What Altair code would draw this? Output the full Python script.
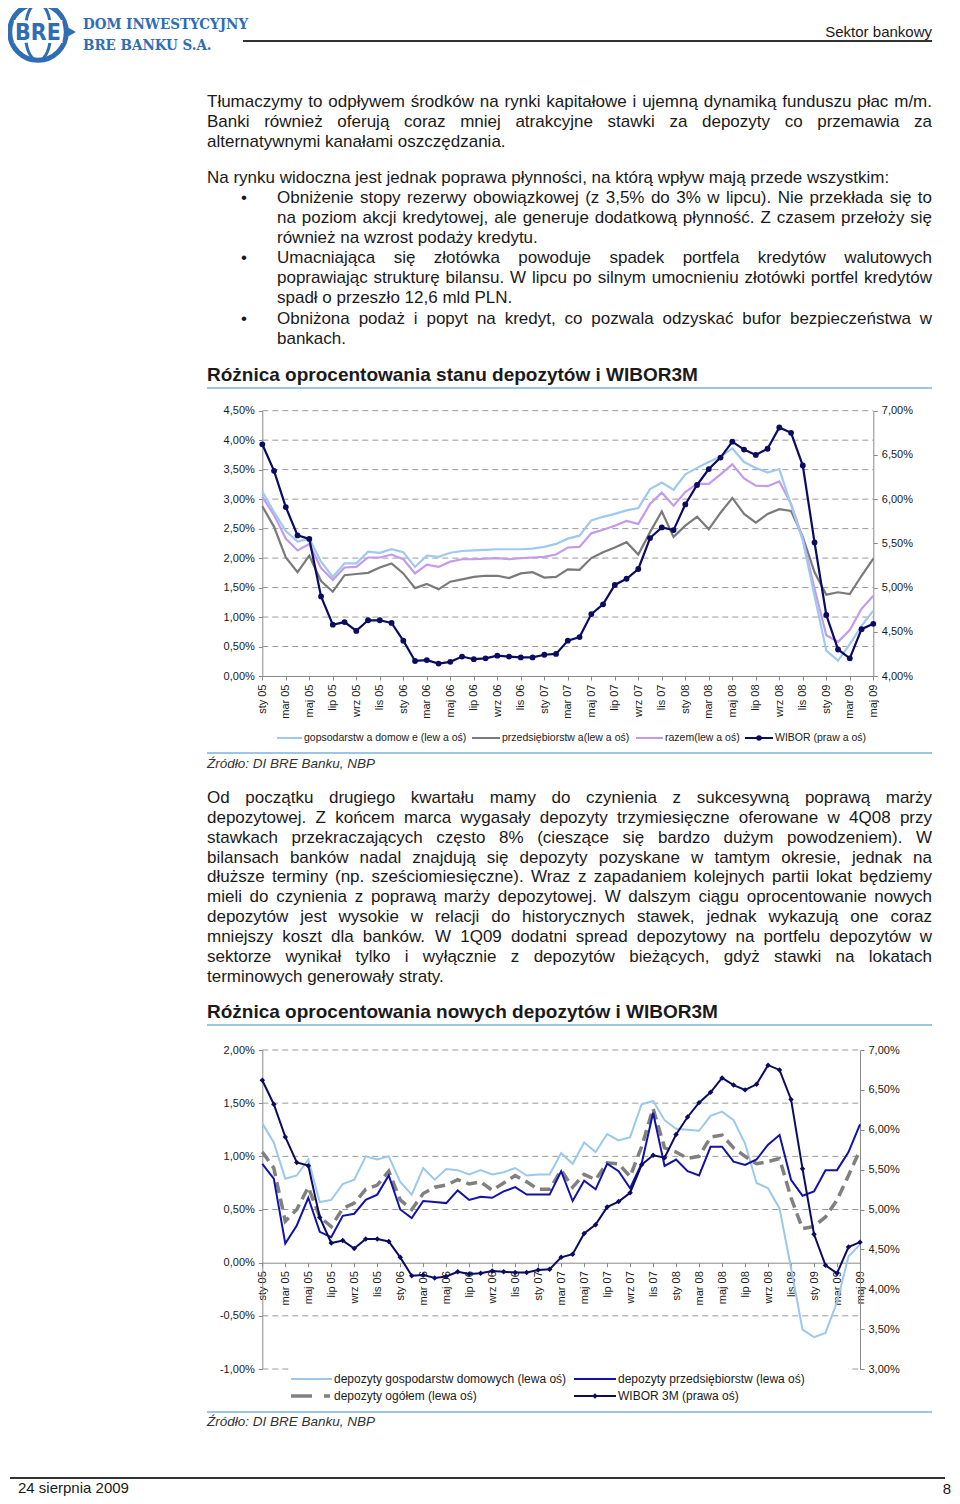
import json
import altair as alt
import pandas as pd

# ---------------- data ----------------
MONTH_ABBR = ["sty", "lut", "mar", "kwi", "maj", "cze", "lip", "sie", "wrz", "paź", "lis", "gru"]
months = [f"{MONTH_ABBR[k % 12]} {5 + k // 12:02d}" for k in range(53)]
idx = list(range(len(months)))
x_ticks = idx[::2]

wibor = [6.62, 6.32, 5.91, 5.59, 5.55, 4.90, 4.58, 4.61, 4.51, 4.63,
         4.63, 4.60, 4.40, 4.17, 4.18, 4.14, 4.16, 4.22, 4.19, 4.20,
         4.23, 4.22, 4.21, 4.21, 4.24, 4.25, 4.40, 4.44, 4.70, 4.81,
         5.03, 5.10, 5.21, 5.56, 5.68, 5.65, 5.94, 6.16, 6.34, 6.47,
         6.65, 6.56, 6.50, 6.57, 6.81, 6.75, 6.38, 5.51, 4.69, 4.30,
         4.20, 4.53, 4.59]

c1_households = [3.13, 2.78, 2.46, 2.28, 2.33, 1.94, 1.68, 1.91, 1.91, 2.11,
                 2.09, 2.15, 2.10, 1.85, 2.04, 2.02, 2.09, 2.12, 2.13, 2.14,
                 2.15, 2.15, 2.15, 2.16, 2.19, 2.24, 2.33, 2.38, 2.64, 2.70,
                 2.75, 2.81, 2.85, 3.17, 3.28, 3.16, 3.42, 3.53, 3.63, 3.72,
                 3.86, 3.63, 3.53, 3.45, 3.51, 2.90, 2.30, 1.36, 0.43, 0.26,
                 0.54, 0.85, 1.11]
c1_enterprises = [2.88, 2.53, 2.01, 1.76, 2.04, 1.61, 1.43, 1.71, 1.73, 1.75,
                  1.84, 1.91, 1.74, 1.49, 1.56, 1.47, 1.60, 1.64, 1.68, 1.70,
                  1.70, 1.66, 1.74, 1.76, 1.67, 1.68, 1.81, 1.80, 2.00, 2.10,
                  2.18, 2.27, 2.06, 2.44, 2.79, 2.36, 2.55, 2.70, 2.49, 2.77,
                  3.02, 2.75, 2.60, 2.75, 2.83, 2.80, 2.36, 1.76, 1.38, 1.42,
                  1.39, 1.70, 1.99]
c1_total = [3.04, 2.73, 2.33, 2.13, 2.24, 1.83, 1.63, 1.84, 1.85, 2.01,
            2.01, 2.06, 1.98, 1.74, 1.89, 1.85, 1.94, 1.98, 1.98, 1.99,
            2.00, 1.98, 2.00, 2.01, 2.02, 2.06, 2.18, 2.19, 2.42, 2.48,
            2.55, 2.63, 2.58, 2.92, 3.11, 2.89, 3.12, 3.26, 3.26, 3.42,
            3.59, 3.35, 3.23, 3.22, 3.30, 2.92, 2.33, 1.48, 0.69, 0.58,
            0.78, 1.14, 1.36]

c2_households = [1.31, 1.13, 0.79, 0.82, 0.97, 0.57, 0.59, 0.74, 0.78, 1.00,
                 0.97, 1.00, 0.76, 0.64, 0.89, 0.78, 0.88, 0.87, 0.83, 0.87,
                 0.83, 0.85, 0.89, 0.82, 0.83, 0.83, 1.03, 0.93, 1.13, 1.04,
                 1.21, 1.15, 1.18, 1.49, 1.52, 1.34, 1.26, 1.25, 1.24, 1.38,
                 1.42, 1.34, 1.12, 0.75, 0.70, 0.51, -0.05, -0.63, -0.70, -0.66,
                 -0.37, 0.06, 0.17]
c2_enterprises = [0.93, 0.79, 0.18, 0.35, 0.61, 0.29, 0.24, 0.44, 0.46, 0.59,
                  0.64, 0.82, 0.50, 0.42, 0.58, 0.57, 0.56, 0.68, 0.59, 0.62,
                  0.61, 0.67, 0.71, 0.64, 0.64, 0.64, 0.86, 0.58, 0.77, 0.69,
                  0.93, 0.86, 0.70, 0.93, 1.41, 0.91, 0.97, 0.86, 0.82, 1.09,
                  1.09, 0.95, 0.92, 0.97, 1.11, 1.20, 0.78, 0.63, 0.67, 0.87,
                  0.87, 1.04, 1.30]
c2_total = [1.04, 0.89, 0.39, 0.50, 0.71, 0.43, 0.34, 0.51, 0.56, 0.69,
            0.73, 0.86, 0.59, 0.50, 0.65, 0.71, 0.73, 0.78, 0.74, 0.76,
            0.68, 0.75, 0.82, 0.76, 0.69, 0.69, 0.87, 0.71, 0.83, 0.78,
            0.94, 0.93, 0.81, 1.09, 1.45, 1.08, 1.04, 0.98, 1.00, 1.18,
            1.20, 1.08, 1.00, 0.93, 0.95, 0.98, 0.61, 0.32, 0.34, 0.43,
            0.59, 0.82, 1.06]

c1_left_ticks = [0, 0.5, 1, 1.5, 2, 2.5, 3, 3.5, 4, 4.5]
c1_right_ticks = [4, 4.5, 5, 5.5, 6, 6.5, 7]
c1_grid_levels = [0.5, 1, 1.5, 2, 2.5, 3, 3.5, 4, 4.5]
c2_left_ticks = [-1, -0.5, 0, 0.5, 1, 1.5, 2]
c2_right_ticks = [3, 3.5, 4, 4.5, 5, 5.5, 6, 6.5, 7]
c2_grid_levels = [-1, -0.5, 0.5, 1, 1.5, 2]

c1_names = ["gospodarstwa domowe", "przedsiębiorstwa", "razem"]

# ---------------- styles / layout ----------------
W, H = 944, 1488
FONT = "Liberation Sans"
BLUE = "#2f6db5"
TXT = "#1a1a1a"
RULE_BLUE = "#9cc6e8"
C1_LB, C1_GR, C1_PU, NAVY = "#9fc9ee", "#7a7a7a", "#c49aec", "#0b0b62"
C2_LB, C2_DB, C2_GR = "#9cc8ec", "#1212a6", "#808080"
PCT = "replace(replace(format(datum.value, '.2f'), '.', ','), '\u2212', '-') + '%'"
XLAB = json.dumps(months, ensure_ascii=False) + "[datum.value]"
BODY_SIZE = 17
RIGHT_EDGE = 932


def px(v):
    return v - 8


one = pd.DataFrame({"a": [0]})

# Arial / Liberation Sans advance widths (1/1000 em) for justification
AW = {" ": 278, "a": 556, "b": 556, "c": 500, "d": 556, "e": 556, "f": 278, "g": 556,
      "h": 556, "i": 222, "j": 222, "k": 500, "l": 222, "m": 833, "n": 556, "o": 556,
      "p": 556, "q": 556, "r": 333, "s": 500, "t": 278, "u": 556, "v": 500, "w": 722,
      "x": 500, "y": 500, "z": 500, "ą": 556, "ę": 556, "ó": 556, "ś": 500, "ć": 500,
      "ż": 500, "ź": 500, "ł": 222, "ń": 556, "A": 667, "B": 667, "C": 722, "D": 722,
      "E": 667, "F": 611, "G": 778, "H": 722, "I": 278, "J": 500, "K": 667, "L": 556,
      "M": 833, "N": 722, "O": 778, "P": 667, "Q": 778, "R": 722, "S": 667, "T": 611,
      "U": 722, "V": 667, "W": 944, "X": 667, "Y": 667, "Z": 611, "Ż": 611,
      ".": 278, ",": 278, ":": 278, "(": 333, ")": 333, "%": 889, "/": 278, "-": 333}


def tw(s, size):
    return sum(AW.get(ch, 556) for ch in s) * size / 1000.0


def text_layer(s, x, y, size=16, weight="normal", style="normal", color=TXT,
               align="left", font=FONT):
    return alt.Chart(pd.DataFrame({"t": [s]})).mark_text(
        align=align, baseline="middle", fontSize=size, fontWeight=weight,
        fontStyle=style, color=color, font=font
    ).encode(x=alt.value(px(x)), y=alt.value(px(y)), text="t:N")


def rule_layer(x1, x2, y, color, width=1.0, dash=None):
    kw = dict(color=color, strokeWidth=width)
    if dash:
        kw["strokeDash"] = dash
    return alt.Chart(one).mark_rule(**kw).encode(
        x=alt.value(px(x1)), x2=alt.value(px(x2)), y=alt.value(px(y)))


def point_layer(x, y, shape, size, color, filled=True, sw=1.0):
    return alt.Chart(one).mark_point(
        shape=shape, size=size, filled=filled, color=color, opacity=1, strokeWidth=sw
    ).encode(x=alt.value(px(x)), y=alt.value(px(y)))


layers = []

# ---------------- header ----------------
layers += [
    point_layer(38, 32, "circle", 3200, BLUE, filled=False, sw=5),
    point_layer(38, 32, "M0,-1C0.6,-1 0.6,1 0,1C-0.6,1 -0.6,-1 0,-1Z", 3200, BLUE, filled=False, sw=3),
    point_layer(4, 32, "triangle-left", 80, BLUE),
    point_layer(72, 32, "triangle-right", 80, BLUE),
    alt.Chart(pd.DataFrame({"t": ["BRE"]})).mark_text(
        align="center", baseline="middle", fontSize=23, fontWeight="bold",
        font="DejaVu Sans Condensed", color="white", stroke="white", strokeWidth=6
    ).encode(x=alt.value(px(38)), y=alt.value(px(33)), text="t:N"),
    text_layer("BRE", 38, 33, size=23, weight="bold", color=BLUE, align="center",
               font="DejaVu Sans Condensed"),
    text_layer("DOM INWESTYCYJNY", 83, 24, size=15, weight="bold", color=BLUE, font="DejaVu Serif Condensed"),
    text_layer("BRE BANKU S.A.", 83, 45, size=15, weight="bold", color=BLUE, font="DejaVu Serif Condensed"),
    rule_layer(243, 932, 41, "#333333", 2),
    text_layer("Sektor bankowy", 932, 32, size=15, align="right"),
]

# ---------------- body text (justified like the report) ----------------
# (line, left x, y, justified)
body = [
    ("Tłumaczymy to odpływem środków na rynki kapitałowe i ujemną dynamiką funduszu płac m/m.", 207, 102, True),
    ("Banki również oferują coraz mniej atrakcyjne stawki za depozyty co przemawia za", 207, 122, True),
    ("alternatywnymi kanałami oszczędzania.", 207, 142, False),
    ("Na rynku widoczna jest jednak poprawa płynności, na którą wpływ mają przede wszystkim:", 207, 178, False),
    ("Obniżenie stopy rezerwy obowiązkowej (z 3,5% do 3% w lipcu). Nie przekłada się to", 277, 198, True),
    ("na poziom akcji kredytowej, ale generuje dodatkową płynność. Z czasem przełoży się", 277, 218, True),
    ("również na wzrost podaży kredytu.", 277, 238, False),
    ("Umacniająca się złotówka powoduje spadek portfela kredytów walutowych", 277, 258, True),
    ("poprawiając strukturę bilansu. W lipcu po silnym umocnieniu złotówki portfel kredytów", 277, 278, True),
    ("spadł o przeszło 12,6 mld PLN.", 277, 298, False),
    ("Obniżona podaż i popyt na kredyt, co pozwala odzyskać bufor bezpieczeństwa w", 277, 319, True),
    ("bankach.", 277, 339, False),
    ("Od początku drugiego kwartału mamy do czynienia z sukcesywną poprawą marży", 207, 798, True),
    ("depozytowej. Z końcem marca wygasały depozyty trzymiesięczne oferowane w 4Q08 przy", 207, 818, True),
    ("stawkach przekraczających często 8% (cieszące się bardzo dużym powodzeniem). W", 207, 838, True),
    ("bilansach banków nadal znajdują się depozyty pozyskane w tamtym okresie, jednak na", 207, 858, True),
    ("dłuższe terminy (np. sześciomiesięczne). Wraz z zapadaniem kolejnych partii lokat będziemy", 207, 877, True),
    ("mieli do czynienia z poprawą marży depozytowej. W dalszym ciągu oprocentowanie nowych", 207, 897, True),
    ("depozytów jest wysokie w relacji do historycznych stawek, jednak wykazują one coraz", 207, 917, True),
    ("mniejszy koszt dla banków. W 1Q09 dodatni spread depozytowy na portfelu depozytów w", 207, 937, True),
    ("sektorze wynikał tylko i wyłącznie z depozytów bieżących, gdyż stawki na lokatach", 207, 957, True),
    ("terminowych generowały straty.", 207, 977, False),
]
rows = []
for s, x0, y, just in body:
    if not just:
        rows.append({"x": px(x0), "y": px(y), "t": s})
        continue
    words = s.split(" ")
    total = sum(tw(w, BODY_SIZE) for w in words)
    gap = (RIGHT_EDGE - x0 - total) / (len(words) - 1)
    cx = x0
    for w in words:
        rows.append({"x": px(cx), "y": px(y), "t": w})
        cx += tw(w, BODY_SIZE) + gap
for y in (198, 258, 319):
    rows.append({"x": px(241), "y": px(y), "t": "•"})
layers.append(
    alt.Chart(pd.DataFrame(rows)).mark_text(
        align="left", baseline="middle", fontSize=BODY_SIZE, font=FONT, color=TXT
    ).encode(
        x=alt.X("x:Q", scale=None, axis=None),
        y=alt.Y("y:Q", scale=None, axis=None),
        text="t:N",
    )
)

layers += [
    text_layer("Różnica oprocentowania stanu depozytów i WIBOR3M", 207, 375, size=19, weight="bold"),
    rule_layer(207, 932, 388, RULE_BLUE, 2),
    rule_layer(207, 932, 753, RULE_BLUE, 2),
    text_layer("Źródło: DI BRE Banku, NBP", 207, 764, size=13.5, style="italic", color="#333333"),
    text_layer("Różnica oprocentowania nowych depozytów i WIBOR3M", 207, 1012, size=19, weight="bold"),
    rule_layer(207, 932, 1025, RULE_BLUE, 2),
    rule_layer(207, 932, 1412, RULE_BLUE, 2),
    text_layer("Źródło: DI BRE Banku, NBP", 207, 1422, size=13.5, style="italic", color="#333333"),
    rule_layer(10, 945, 1478, "#333333", 2),
    text_layer("24 sierpnia 2009", 18, 1488, size=15),
    text_layer("8", 951, 1489, size=15, align="right"),
]

AX = dict(title=None, grid=False, labelFont=FONT, labelFontSize=11, labelColor=TXT,
          domainColor="#8a8a8a", domainWidth=1, tickColor="#8a8a8a", tickWidth=1,
          labelOverlap=False, labelFlush=False)

# ---------------- chart 1 ----------------
c1x = alt.Scale(domain=[0, 52], range=[px(262.3), px(873.3)], nice=False, zero=False)
c1yl = alt.Scale(domain=[0, 4.5], range=[px(676), px(410.7)], nice=False, zero=False)
c1yr = alt.Scale(domain=[4, 7], range=[px(676), px(410.7)], nice=False, zero=False)

g1 = pd.DataFrame({"v": c1_grid_levels, "a": 0, "b": 52})
c1_grid = alt.Chart(g1).mark_rule(color="#9a9a9a", strokeDash=[6, 4], strokeWidth=1).encode(
    x=alt.X("a:Q", scale=c1x, axis=alt.Axis(orient="bottom", offset=px(676) - H, values=x_ticks,
                                             labelExpr=XLAB, labelAngle=-90, tickSize=4,
                                             labelPadding=4, **AX)),
    x2="b:Q",
    y=alt.Y("v:Q", scale=c1yl, axis=alt.Axis(orient="left", offset=-px(262.3), values=c1_left_ticks,
                                             labelExpr=PCT, tickSize=4, labelPadding=4, **AX)),
)
df1 = pd.DataFrame({
    "i": idx * 3,
    "v": c1_enterprises + c1_total + c1_households,
    "s": [c1_names[1]] * 53 + [c1_names[2]] * 53 + [c1_names[0]] * 53,
})
c1_lines = alt.Chart(df1).mark_line(strokeWidth=2.2).encode(
    x=alt.X("i:Q", scale=c1x, axis=None),
    y=alt.Y("v:Q", scale=c1yl, axis=None),
    color=alt.Color("s:N", scale=alt.Scale(domain=c1_names, range=[C1_LB, C1_GR, C1_PU]), legend=None),
    detail="s:N",
)

dfw = pd.DataFrame({"i": idx, "w": wibor})
c1_right = alt.Chart(dfw).mark_line(
    color=NAVY, strokeWidth=2.2,
    point=alt.OverlayMarkDef(filled=True, size=34, color=NAVY)
).encode(
    x=alt.X("i:Q", scale=c1x, axis=None),
    y=alt.Y("w:Q", scale=c1yr, axis=alt.Axis(orient="right", offset=px(873.3) - W, values=c1_right_ticks,
                                             labelExpr=PCT, tickSize=4, labelPadding=4, **AX)),
)

# ---------------- chart 2 ----------------
c2x = alt.Scale(domain=[0, 52], range=[px(262.3), px(860)], nice=False, zero=False)
c2yl = alt.Scale(domain=[-1, 2], range=[px(1369), px(1050)], nice=False, zero=False)
c2yr = alt.Scale(domain=[3, 7], range=[px(1369), px(1050)], nice=False, zero=False)

g2 = pd.DataFrame({"v": c2_grid_levels, "a": 0, "b": 52})
c2_grid = alt.Chart(g2).mark_rule(color="#9a9a9a", strokeDash=[6, 4], strokeWidth=1).encode(
    x=alt.X("a:Q", scale=c2x, axis=alt.Axis(orient="bottom", offset=px(1262.7) - H, values=x_ticks,
                                             labelExpr=XLAB, labelAngle=-90, tickSize=4,
                                             labelPadding=4, **AX)),
    x2="b:Q",
    y=alt.Y("v:Q", scale=c2yl, axis=alt.Axis(orient="left", offset=-px(262.3), values=c2_left_ticks,
                                             labelExpr=PCT, tickSize=4, labelPadding=4, **AX)),
)


def c2_series(vals, **mk):
    d = pd.DataFrame({"i": idx, "v": vals})
    return alt.Chart(d).mark_line(**mk).encode(
        x=alt.X("i:Q", scale=c2x, axis=None),
        y=alt.Y("v:Q", scale=c2yl, axis=None),
    )


c2_right = alt.Chart(dfw).mark_line(
    color=NAVY, strokeWidth=2,
    point=alt.OverlayMarkDef(filled=True, shape="diamond", size=30, color=NAVY)
).encode(
    x=alt.X("i:Q", scale=c2x, axis=None),
    y=alt.Y("w:Q", scale=c2yr, axis=alt.Axis(orient="right", offset=px(860) - W, values=c2_right_ticks,
                                             labelExpr=PCT, tickSize=4, labelPadding=4, **AX)),
)

layers += [
    c1_grid, c1_lines, c1_right,
    c2_grid,
    c2_series(c2_households, color=C2_LB, strokeWidth=2),
    c2_series(c2_total, color=C2_GR, strokeWidth=3.5, strokeDash=[11, 6]),
    c2_series(c2_enterprises, color=C2_DB, strokeWidth=2),
    c2_right,
]

# ---------------- legends ----------------
LF = 10.5
layers += [
    rule_layer(277, 302, 738, C1_LB, 2),
    text_layer("gopsodarstw a domow e (lew a oś)", 304, 738, size=LF),
    rule_layer(472, 500, 738, C1_GR, 2),
    text_layer("przedsiębiorstw a(lew a oś)", 502, 738, size=LF),
    rule_layer(636, 663, 738, C1_PU, 2),
    text_layer("razem(lew a oś)", 665, 738, size=LF),
    rule_layer(745, 773, 738, NAVY, 2),
    point_layer(759, 738, "circle", 30, NAVY),
    text_layer("WIBOR (praw a oś)", 775, 738, size=LF),
]

# white legend box of chart 2
layers.append(
    alt.Chart(one).mark_rect(color="white").encode(
        x=alt.value(px(289)), x2=alt.value(px(848)), y=alt.value(px(1365)), y2=alt.value(px(1405)))
)
LF2 = 12
layers += [
    rule_layer(291, 332, 1379, C2_LB, 2),
    text_layer("depozyty gospodarstw domowych (lewa oś)", 334, 1379, size=LF2),
    rule_layer(574, 616, 1379, C2_DB, 2),
    text_layer("depozyty przedsiębiorstw (lewa oś)", 618, 1379, size=LF2),
    rule_layer(291, 330, 1396, C2_GR, 3.5, dash=[21, 12]),
    text_layer("depozyty ogółem (lewa oś)", 334, 1396, size=LF2),
    rule_layer(574, 616, 1396, NAVY, 2),
    point_layer(595, 1396, "diamond", 30, NAVY),
    text_layer("WIBOR 3M (prawa oś)", 618, 1396, size=LF2),
]

chart = alt.layer(*layers).resolve_scale(
    x="independent", y="independent", color="independent"
).properties(
    width=W, height=H, autosize=alt.AutoSizeParams(type="none"), padding=0
).configure_view(stroke=None)

chart.save("out.html", embed_options={"renderer": "svg", "actions": False})
